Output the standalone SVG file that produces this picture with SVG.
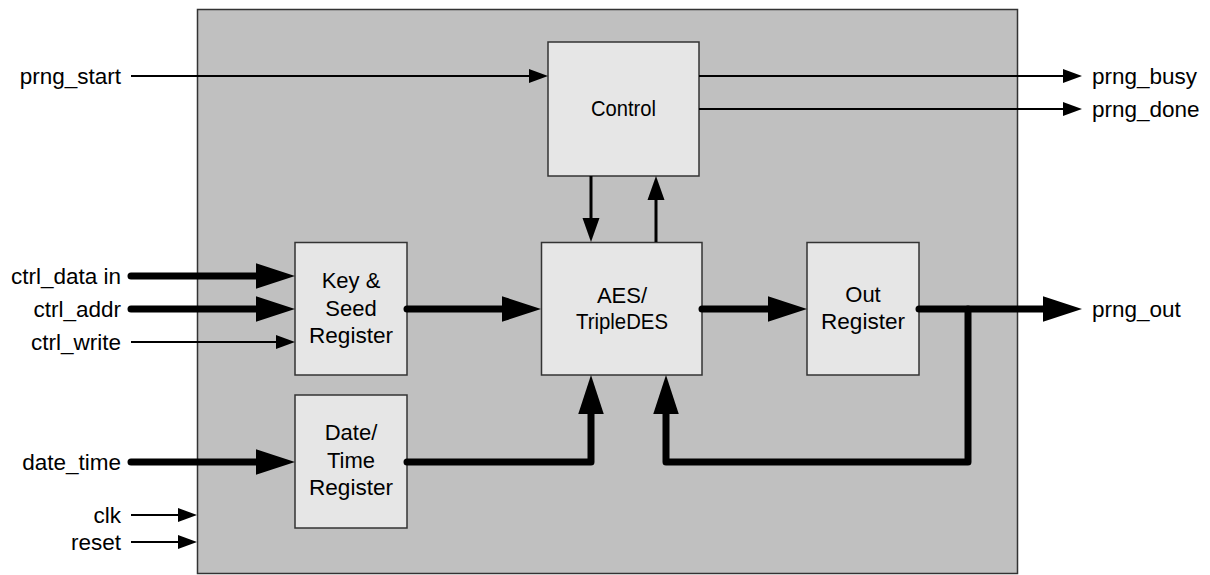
<svg xmlns="http://www.w3.org/2000/svg" width="1210" height="575" viewBox="0 0 1210 575">
<defs>
<style>
text{font-family:"Liberation Sans",Arial,sans-serif;font-size:22px;fill:#000}
.lbl{text-anchor:end;font-size:22.5px}
.rl{text-anchor:start;font-size:22.5px}
.bt{text-anchor:middle}
.box{fill:#e6e6e6;stroke:#333;stroke-width:1.5}
.thin{stroke:#000;stroke-width:2;fill:none}
.med{stroke:#000;stroke-width:3;fill:none}
.thick{stroke:#000;stroke-width:7;fill:none;stroke-linecap:round;stroke-linejoin:round}
</style>
<marker id="aThin" markerUnits="userSpaceOnUse" markerWidth="20" markerHeight="14" refX="0" refY="7" orient="auto" overflow="visible"><path d="M0,0 L19,7 L0,14 z" fill="#000"/></marker>
<marker id="aMed" markerUnits="userSpaceOnUse" markerWidth="25" markerHeight="17" refX="0" refY="8.5" orient="auto" overflow="visible"><path d="M0,0 L24,8.5 L0,17 z" fill="#000"/></marker>
<marker id="aThick" markerUnits="userSpaceOnUse" markerWidth="39" markerHeight="26" refX="0" refY="12.75" orient="auto" overflow="visible"><path d="M0,0 L39,12.75 L0,25.5 z" fill="#000"/></marker>
</defs>
<rect x="0" y="0" width="1210" height="575" fill="#fff"/>
<g id="container"><rect x="197.5" y="9.5" width="820" height="564" fill="#c0c0c0" stroke="#333" stroke-width="1.5"/></g>

<g id="control"><rect class="box" x="548" y="42" width="151" height="134"/><text class="bt" x="623.5" y="116" textLength="65" lengthAdjust="spacingAndGlyphs">Control</text></g>
<g id="keyseed"><rect class="box" x="295" y="242.5" width="112" height="132.5"/><text class="bt" x="351" y="288">Key &amp;</text><text class="bt" x="351" y="316">Seed</text><text class="bt" x="351" y="343" textLength="84" lengthAdjust="spacingAndGlyphs">Register</text></g>
<g id="datetime"><rect class="box" x="295" y="395" width="112" height="133"/><text class="bt" x="351" y="440">Date/</text><text class="bt" x="351" y="468">Time</text><text class="bt" x="351" y="495" textLength="84" lengthAdjust="spacingAndGlyphs">Register</text></g>
<g id="aes"><rect class="box" x="541.5" y="242.5" width="160.5" height="132.5"/><text class="bt" x="622" y="303">AES/</text><text class="bt" x="622" y="329" textLength="92" lengthAdjust="spacingAndGlyphs">TripleDES</text></g>
<g id="outreg"><rect class="box" x="807" y="242.5" width="112" height="132.5"/><text class="bt" x="863" y="302">Out</text><text class="bt" x="863" y="329" textLength="84" lengthAdjust="spacingAndGlyphs">Register</text></g>

<g id="connectors">
<line class="thin" x1="131" y1="76" x2="529" y2="76" marker-end="url(#aThin)"/>
<line class="thin" x1="699" y1="76" x2="1063" y2="76" marker-end="url(#aThin)"/>
<line class="thin" x1="699" y1="109" x2="1063" y2="109" marker-end="url(#aThin)"/>
<line class="med" x1="591" y1="176" x2="591" y2="218" marker-end="url(#aMed)"/>
<line class="med" x1="656" y1="242" x2="656" y2="200" marker-end="url(#aMed)"/>
<line class="thick" x1="131" y1="276" x2="256" y2="276" marker-end="url(#aThick)"/>
<line class="thick" x1="131" y1="309" x2="256" y2="309" marker-end="url(#aThick)"/>
<line class="thin" x1="131" y1="342" x2="276" y2="342" marker-end="url(#aThin)"/>
<line class="thick" x1="131" y1="462" x2="256" y2="462" marker-end="url(#aThick)"/>
<line class="thin" x1="131" y1="515" x2="178" y2="515" marker-end="url(#aThin)"/>
<line class="thin" x1="131" y1="542" x2="178" y2="542" marker-end="url(#aThin)"/>
<line class="thick" x1="407" y1="309" x2="502" y2="309" marker-end="url(#aThick)"/>
<line class="thick" x1="702" y1="309" x2="768" y2="309" marker-end="url(#aThick)"/>
<line class="thick" x1="919" y1="309" x2="1043" y2="309" marker-end="url(#aThick)"/>
<path class="thick" d="M968,309 V462 H666 V414" marker-end="url(#aThick)"/>
<path class="thick" d="M407,462 H591 V414" marker-end="url(#aThick)"/>
</g>

<g id="labels">
<text class="lbl" x="121" y="84">prng_start</text>
<text class="lbl" x="121" y="284">ctrl_data in</text>
<text class="lbl" x="121" y="317">ctrl_addr</text>
<text class="lbl" x="121" y="350">ctrl_write</text>
<text class="lbl" x="121" y="470">date_time</text>
<text class="lbl" x="121" y="523">clk</text>
<text class="lbl" x="121" y="550">reset</text>
<text class="rl" x="1092" y="84">prng_busy</text>
<text class="rl" x="1092" y="117">prng_done</text>
<text class="rl" x="1092" y="317">prng_out</text>
</g>
</svg>
